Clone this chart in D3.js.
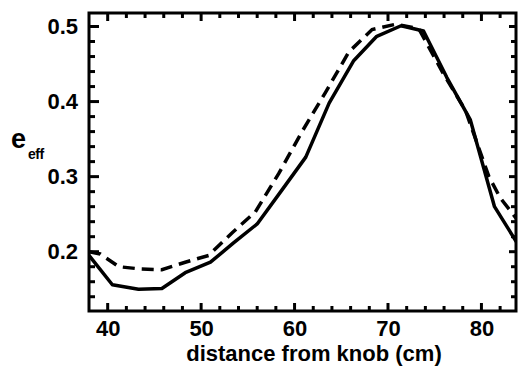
<!DOCTYPE html>
<html>
<head>
<meta charset="utf-8">
<script src="https://cdn.jsdelivr.net/npm/d3@7"></script>
<style>
  body { margin: 0; background: #fff; }
  svg text { font-family: "Liberation Sans", Arial, sans-serif; font-weight: bold; fill: #000; }
</style>
</head>
<body>
<svg id="chart" width="518" height="366"></svg>
<script>
// efficiency vs distance from knob, solid and dashed curve
const solidX = [38, 40.5, 43.3, 45.8, 48.3, 51.0, 53.5, 56.0, 58.7, 61.2, 63.7, 66.3, 68.8, 71.4, 73.8, 76.3, 78.8, 81.4, 84.0];
const solidY = [0.195, 0.156, 0.150, 0.151, 0.172, 0.186, 0.212, 0.237, 0.283, 0.326, 0.398, 0.454, 0.487, 0.501, 0.494, 0.432, 0.376, 0.260, 0.208];

const dashX = [38, 39.2, 41.2, 43.5, 45.8, 48.3, 50.8, 53.3, 55.8, 58.3, 60.8, 63.3, 65.8, 68.3, 70.8, 73.3, 75.8, 78.3, 80.8, 82.0, 84.0];
const dashY = [0.200, 0.197, 0.180, 0.177, 0.176, 0.186, 0.195, 0.225, 0.253, 0.304, 0.360, 0.412, 0.466, 0.496, 0.503, 0.497, 0.440, 0.388, 0.300, 0.272, 0.240];

const xMajor = [40, 50, 60, 70, 80];
const yMajor = [0.2, 0.3, 0.4, 0.5];
const xMinor = [42, 44, 46, 48, 52, 54, 56, 58, 62, 64, 66, 68, 72, 74, 76, 78, 82];
const yMinor = [0.14, 0.16, 0.18, 0.22, 0.24, 0.26, 0.28, 0.32, 0.34, 0.36, 0.38, 0.42, 0.44, 0.46, 0.48];

const svg = d3.select("#chart");
const pLeft = 89, pRight = 516, pTop = 13, pBottom = 311;

const xScale = d3.scaleLinear().domain([38, 83.7]).range([pLeft, pRight]);
const yScale = d3.scaleLinear().domain([0.121, 0.518]).range([pBottom, pTop]);

// clip for the curves
svg.append("clipPath").attr("id", "plotclip")
  .append("rect")
  .attr("x", pLeft).attr("y", pTop)
  .attr("width", pRight - pLeft).attr("height", pBottom - pTop);

// frame
svg.append("rect")
  .attr("x", pLeft).attr("y", pTop)
  .attr("width", pRight - pLeft).attr("height", pBottom - pTop)
  .attr("fill", "none").attr("stroke", "#000").attr("stroke-width", 3);

// inward ticks on all four sides, drawn as plain lines from the scales
const ticks = svg.append("g").attr("class", "ticks")
  .attr("stroke", "#000").attr("stroke-width", 3);

function yTicks(values, x0, len) {
  ticks.selectAll(null)
    .data(values)
    .enter()
    .append("line")
    .attr("x1", x0).attr("x2", x0 + len)
    .attr("y1", d => yScale(d)).attr("y2", d => yScale(d));
}
function xTicks(values, y0, len) {
  ticks.selectAll(null)
    .data(values)
    .enter()
    .append("line")
    .attr("y1", y0).attr("y2", y0 + len)
    .attr("x1", d => xScale(d)).attr("x2", d => xScale(d));
}
yTicks(yMajor, pLeft, 10);
yTicks(yMinor, pLeft, 6);
yTicks(yMajor, pRight, -7);
yTicks(yMinor, pRight, -5);
xTicks(xMajor, pBottom, -8);
xTicks(xMinor, pBottom, -5);
xTicks(xMajor, pTop, 8);
xTicks(xMinor, pTop, 5);

// tick labels through the axes (no lines)
const yAxisG = svg.append("g")
  .attr("transform", `translate(${pLeft},0)`)
  .call(d3.axisLeft(yScale).tickValues(yMajor).tickSize(0).tickPadding(11).tickFormat(d3.format(".1f")));
yAxisG.select(".domain").remove();
yAxisG.selectAll("text").style("font-size", "22px");

const xAxisG = svg.append("g")
  .attr("transform", `translate(0,${pBottom})`)
  .call(d3.axisBottom(xScale).tickValues(xMajor).tickSize(0).tickPadding(9).tickFormat(d3.format("d")));
xAxisG.select(".domain").remove();
xAxisG.selectAll("text").style("font-size", "22px");

const lineGen = d3.line()
  .x(d => xScale(d[0]))
  .y(d => yScale(d[1]));

const curves = svg.append("g").attr("clip-path", "url(#plotclip)");

curves.append("path")
  .datum(dashX.map((v, i) => [v, dashY[i]]))
  .attr("d", lineGen)
  .attr("fill", "none")
  .attr("stroke", "#000")
  .attr("stroke-width", 3.5)
  .attr("stroke-dasharray", "12,7");

curves.append("path")
  .datum(solidX.map((v, i) => [v, solidY[i]]))
  .attr("d", lineGen)
  .attr("fill", "none")
  .attr("stroke", "#000")
  .attr("stroke-width", 3.5)
  .attr("stroke-linejoin", "round");

// axis titles
svg.append("text")
  .attr("x", 314).attr("y", 361)
  .attr("text-anchor", "middle")
  .style("font-size", "22px")
  .text("distance from knob (cm)");

const yl = svg.append("text")
  .attr("x", 11).attr("y", 148);
yl.append("tspan").style("font-size", "27px").text("e");
yl.append("tspan").attr("x", 28).attr("y", 159)
  .style("font-size", "14px").style("letter-spacing", "-0.5px").text("eff");
</script>
</body>
</html>
